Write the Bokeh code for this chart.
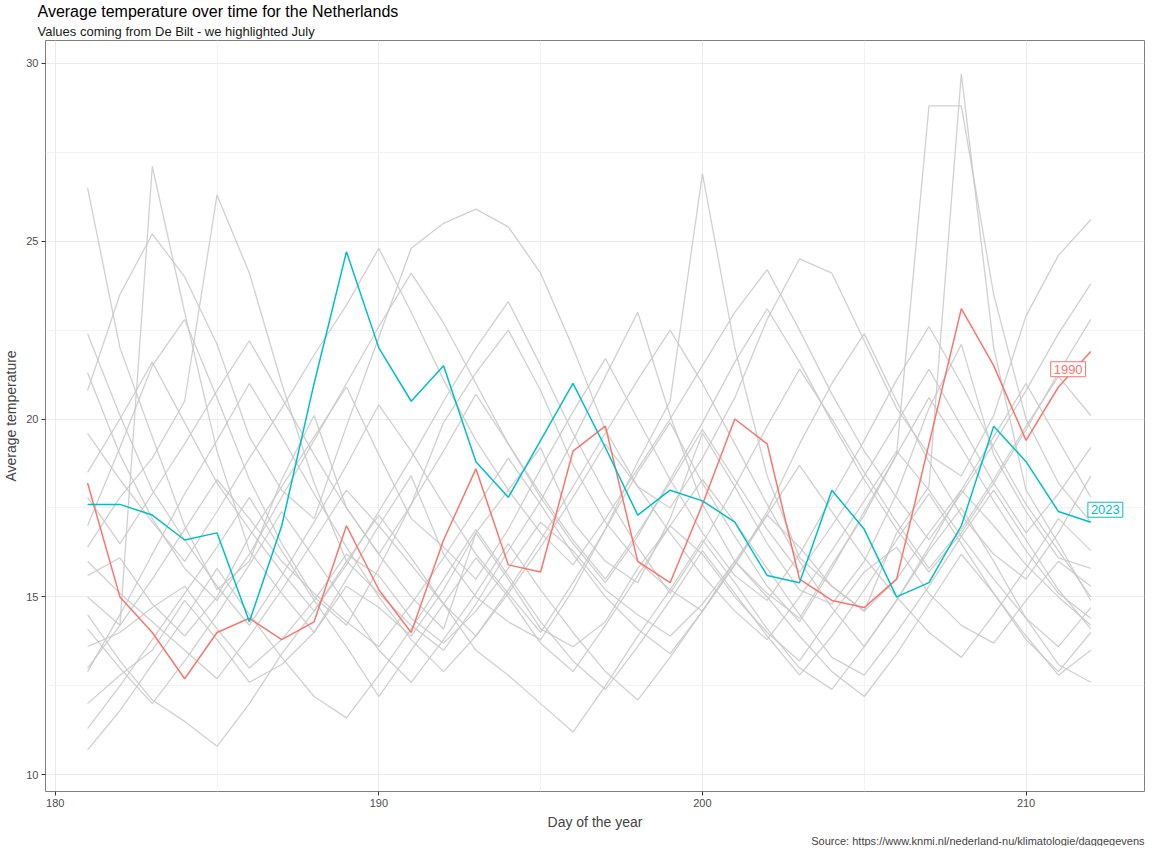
from bokeh.plotting import figure
from bokeh.models import Label, Title, FixedTicker, Range1d
from bokeh.embed import file_html
from bokeh.resources import INLINE

days = list(range(181, 213))
y1990 = [18.2,15.0,14.0,12.7,14.0,14.4,13.8,14.3,17.0,15.2,14.0,16.6,18.6,15.9,15.7,19.1,19.8,16.0,15.4,17.6,20.0,19.3,15.5,14.9,14.7,15.5,19.3,23.1,21.5,19.4,20.9,21.9]
y2023 = [17.6,17.6,17.3,16.6,16.8,14.3,17.0,21.0,24.7,22.0,20.5,21.5,18.8,17.8,19.4,21.0,19.2,17.3,18.0,17.7,17.1,15.6,15.4,18.0,16.9,15.0,15.4,17.0,19.8,18.8,17.4,17.1]
other_years = [
[26.5,22.0,19.5,17.0,15.2,16.0,18.3,20.1,17.5,16.2,15.0,14.1,16.8,18.0,19.2,17.1,16.0,15.4,17.2,19.6,18.1,16.5,15.2,14.8,16.0,17.9,20.3,22.1,19.0,17.4,16.1,15.8],
[13.0,14.2,27.1,23.0,19.1,16.3,15.1,14.0,15.5,17.0,18.4,16.2,15.0,14.3,13.8,15.2,16.9,18.8,20.5,26.9,22.0,18.4,16.1,15.3,14.6,16.8,18.1,29.7,22.0,18.0,16.5,14.9],
[16.4,17.8,18.9,20.5,26.3,24.1,21.0,18.2,16.0,15.1,14.2,13.5,14.8,16.3,17.7,19.4,21.2,23.0,20.1,17.6,16.0,15.1,14.4,15.9,17.3,19.0,28.8,28.8,23.5,20.0,18.2,17.1],
[12.0,12.8,13.5,14.9,13.8,12.6,13.1,14.0,15.3,14.7,13.9,15.2,16.8,15.5,14.1,13.6,14.3,15.8,17.0,16.2,15.0,14.0,13.2,14.5,15.7,16.4,15.1,14.2,13.7,14.9,16.0,15.3],
[20.8,23.5,25.2,24.0,22.1,19.5,18.0,17.2,19.8,22.3,24.8,25.5,25.9,25.4,24.1,22.0,19.7,18.1,17.5,18.9,20.6,22.8,24.5,24.1,22.2,20.3,19.0,18.4,20.1,22.9,24.6,25.6],
[14.5,13.2,12.1,11.5,10.8,12.0,13.4,14.6,16.0,17.3,16.1,14.8,13.5,12.8,12.0,11.2,12.5,13.9,15.2,16.6,15.4,14.1,13.0,12.4,13.6,14.9,16.3,17.5,16.0,14.4,13.1,12.6],
[17.0,19.2,21.5,22.8,20.6,18.3,16.5,15.0,14.2,15.8,17.6,19.9,21.3,22.5,20.8,18.7,17.1,16.0,15.2,14.6,15.9,17.4,19.3,21.0,22.4,20.5,18.8,17.3,16.2,15.5,16.8,18.4],
[15.6,16.1,14.8,13.9,15.0,16.7,18.1,19.5,20.9,19.0,17.2,16.4,15.5,16.9,18.6,20.2,21.7,20.0,18.3,16.8,15.6,14.9,16.2,17.8,19.4,21.1,22.6,21.0,19.2,17.6,16.3,15.0],
[11.3,12.5,13.8,15.1,16.4,17.8,16.3,14.9,13.6,12.2,13.5,14.8,16.1,15.0,13.7,12.9,14.2,15.6,17.0,18.3,17.1,15.8,14.5,13.3,12.8,14.0,15.3,16.7,18.0,16.6,15.2,14.1],
[19.6,18.3,17.1,16.0,17.4,18.9,20.3,21.8,23.2,24.8,23.0,21.1,19.4,18.0,16.8,15.9,17.2,18.6,20.0,21.5,23.0,24.2,22.5,20.7,19.1,17.8,16.6,17.9,19.3,20.8,22.4,23.8],
[13.6,14.0,14.7,15.3,14.1,13.0,13.8,14.9,16.2,15.6,14.4,13.7,14.6,15.8,17.1,16.3,15.2,14.5,13.9,14.8,16.0,17.3,16.4,15.3,14.6,15.5,16.8,18.0,17.0,15.9,15.0,14.2],
[22.4,20.1,18.0,16.6,15.3,14.2,15.6,17.1,18.7,20.4,19.1,17.6,16.2,15.1,14.0,15.4,16.9,18.5,19.9,18.2,16.7,15.3,14.3,15.8,17.4,19.0,20.6,19.2,17.7,16.3,15.1,14.4],
[16.0,15.1,14.3,13.5,12.7,13.9,15.2,16.6,18.0,17.0,15.9,14.8,13.9,15.1,16.4,17.8,19.3,18.1,16.8,15.6,14.6,13.8,15.0,16.3,17.7,19.1,18.0,16.7,15.5,14.4,13.6,14.7],
[18.5,20.0,21.6,19.9,18.2,16.9,15.7,14.6,15.9,17.4,18.9,20.5,22.0,23.3,21.5,19.6,17.9,16.4,15.1,16.5,18.1,19.8,21.4,20.0,18.5,17.1,15.8,16.9,18.3,19.8,21.2,20.1],
[12.9,14.5,16.2,17.9,19.4,21.0,19.5,17.9,16.4,15.0,13.8,12.9,13.9,15.2,16.6,18.1,19.6,21.1,22.5,21.0,19.3,17.6,16.0,14.7,13.6,14.9,16.4,18.0,19.5,21.0,19.4,17.8],
[15.0,14.2,15.5,16.9,18.3,17.2,16.0,15.1,14.3,13.6,14.8,16.1,17.5,18.9,17.6,16.2,15.0,14.1,13.4,14.6,15.9,17.3,18.7,17.4,16.1,15.0,14.0,13.3,14.5,15.8,17.2,16.3],
[21.3,19.0,17.2,15.8,14.9,16.2,17.8,19.4,21.0,22.6,24.1,22.7,21.0,19.3,17.8,16.5,15.4,16.7,18.3,19.9,21.6,23.1,21.6,19.9,18.3,16.9,15.7,16.8,18.2,19.7,21.3,22.8],
[14.1,13.0,12.0,13.2,14.5,15.9,17.4,16.1,14.8,13.5,12.6,13.8,15.1,16.5,15.2,14.0,12.9,12.1,13.3,14.6,16.0,15.0,13.9,12.9,12.2,13.4,14.8,16.2,15.1,13.9,12.8,13.5],
[17.8,16.5,17.9,19.3,20.8,22.2,20.6,19.0,17.5,16.2,17.6,19.1,20.7,19.3,17.9,16.6,15.5,16.8,18.2,19.7,18.3,16.9,15.7,17.0,18.4,19.9,21.4,19.8,18.2,16.8,17.9,19.2],
[10.7,11.8,13.1,14.4,15.8,14.5,13.3,12.2,11.6,12.8,14.1,15.5,16.9,15.6,14.3,13.2,12.4,13.6,14.9,16.3,15.1,13.9,12.8,13.9,15.2,16.6,17.9,16.5,15.1,13.8,12.9,14.0],
]
x_ticks = [180, 190, 200, 210]
y_ticks = [10, 15, 20, 25, 30]

p = figure(width=1150, height=846, output_backend="svg", toolbar_location=None,
           x_range=Range1d(179.7, 213.66), y_range=Range1d(9.53, 30.64),
           min_border_left=40, min_border_right=6, min_border_top=0, min_border_bottom=0)
p.title = None
p.add_layout(Title(text="Values coming from De Bilt - we highlighted July", text_font="Liberation Sans",
                   text_font_size="13px", text_font_style="normal", text_color="#1a1a1a",
                   standoff=4, offset=-8), "above")
p.add_layout(Title(text="Average temperature over time for the Netherlands", text_font="Liberation Sans",
                   text_font_size="16px", text_font_style="normal", text_color="#000000",
                   standoff=0, offset=-8), "above")
p.add_layout(Title(text="Source: https://www.knmi.nl/nederland-nu/klimatologie/daggegevens", align="right",
                   text_font="Liberation Sans", text_font_size="11px", text_font_style="normal",
                   standoff=0), "below")

for ys in other_years:
    p.line(days, ys, line_color="#c8c8c8", line_width=1.3, line_alpha=0.85)
p.line(days, y1990, line_color="#F8766D", line_width=1.5)
p.line(days, y2023, line_color="#00BFC4", line_width=1.5)

for txt, x, y, c in [("1990", 211.3, 21.4, "#F8766D"), ("2023", 212.45, 17.45, "#00BFC4")]:
    p.add_layout(Label(x=x, y=y, text=txt, text_color=c, text_align="center", text_baseline="middle",
                       text_font="Liberation Sans", text_font_size="13px",
                       background_fill_color="white", border_line_color=c, border_line_width=1,
                       padding=3))

p.xaxis.ticker = FixedTicker(ticks=x_ticks, minor_ticks=[185, 195, 205])
p.yaxis.ticker = FixedTicker(ticks=y_ticks, minor_ticks=[12.5, 17.5, 22.5, 27.5])
p.xaxis.axis_label = "Day of the year"
p.yaxis.axis_label = "Average temperature"
for ax in [p.xaxis[0], p.yaxis[0]]:
    ax.axis_label_text_font = "Liberation Sans"
    ax.axis_label_text_font_style = "normal"
    ax.axis_label_text_font_size = "14px"
    ax.axis_label_standoff = 4
    ax.major_label_standoff = 3
    ax.major_label_text_font = "Liberation Sans"
    ax.major_label_text_font_size = "11px"
    ax.major_label_text_color = "#4d4d4d"
    ax.axis_line_color = None
    ax.major_tick_line_color = "#333333"
    ax.major_tick_in = 0
    ax.major_tick_out = 4
    ax.minor_tick_line_color = None
p.yaxis.major_label_orientation = 0
p.grid.grid_line_color = "#ebebeb"
p.grid.minor_grid_line_color = "#f3f3f3"
p.outline_line_color = "#7f7f7f"
p.outline_line_width = 1

open("out.html", "w").write(file_html(p, INLINE))
